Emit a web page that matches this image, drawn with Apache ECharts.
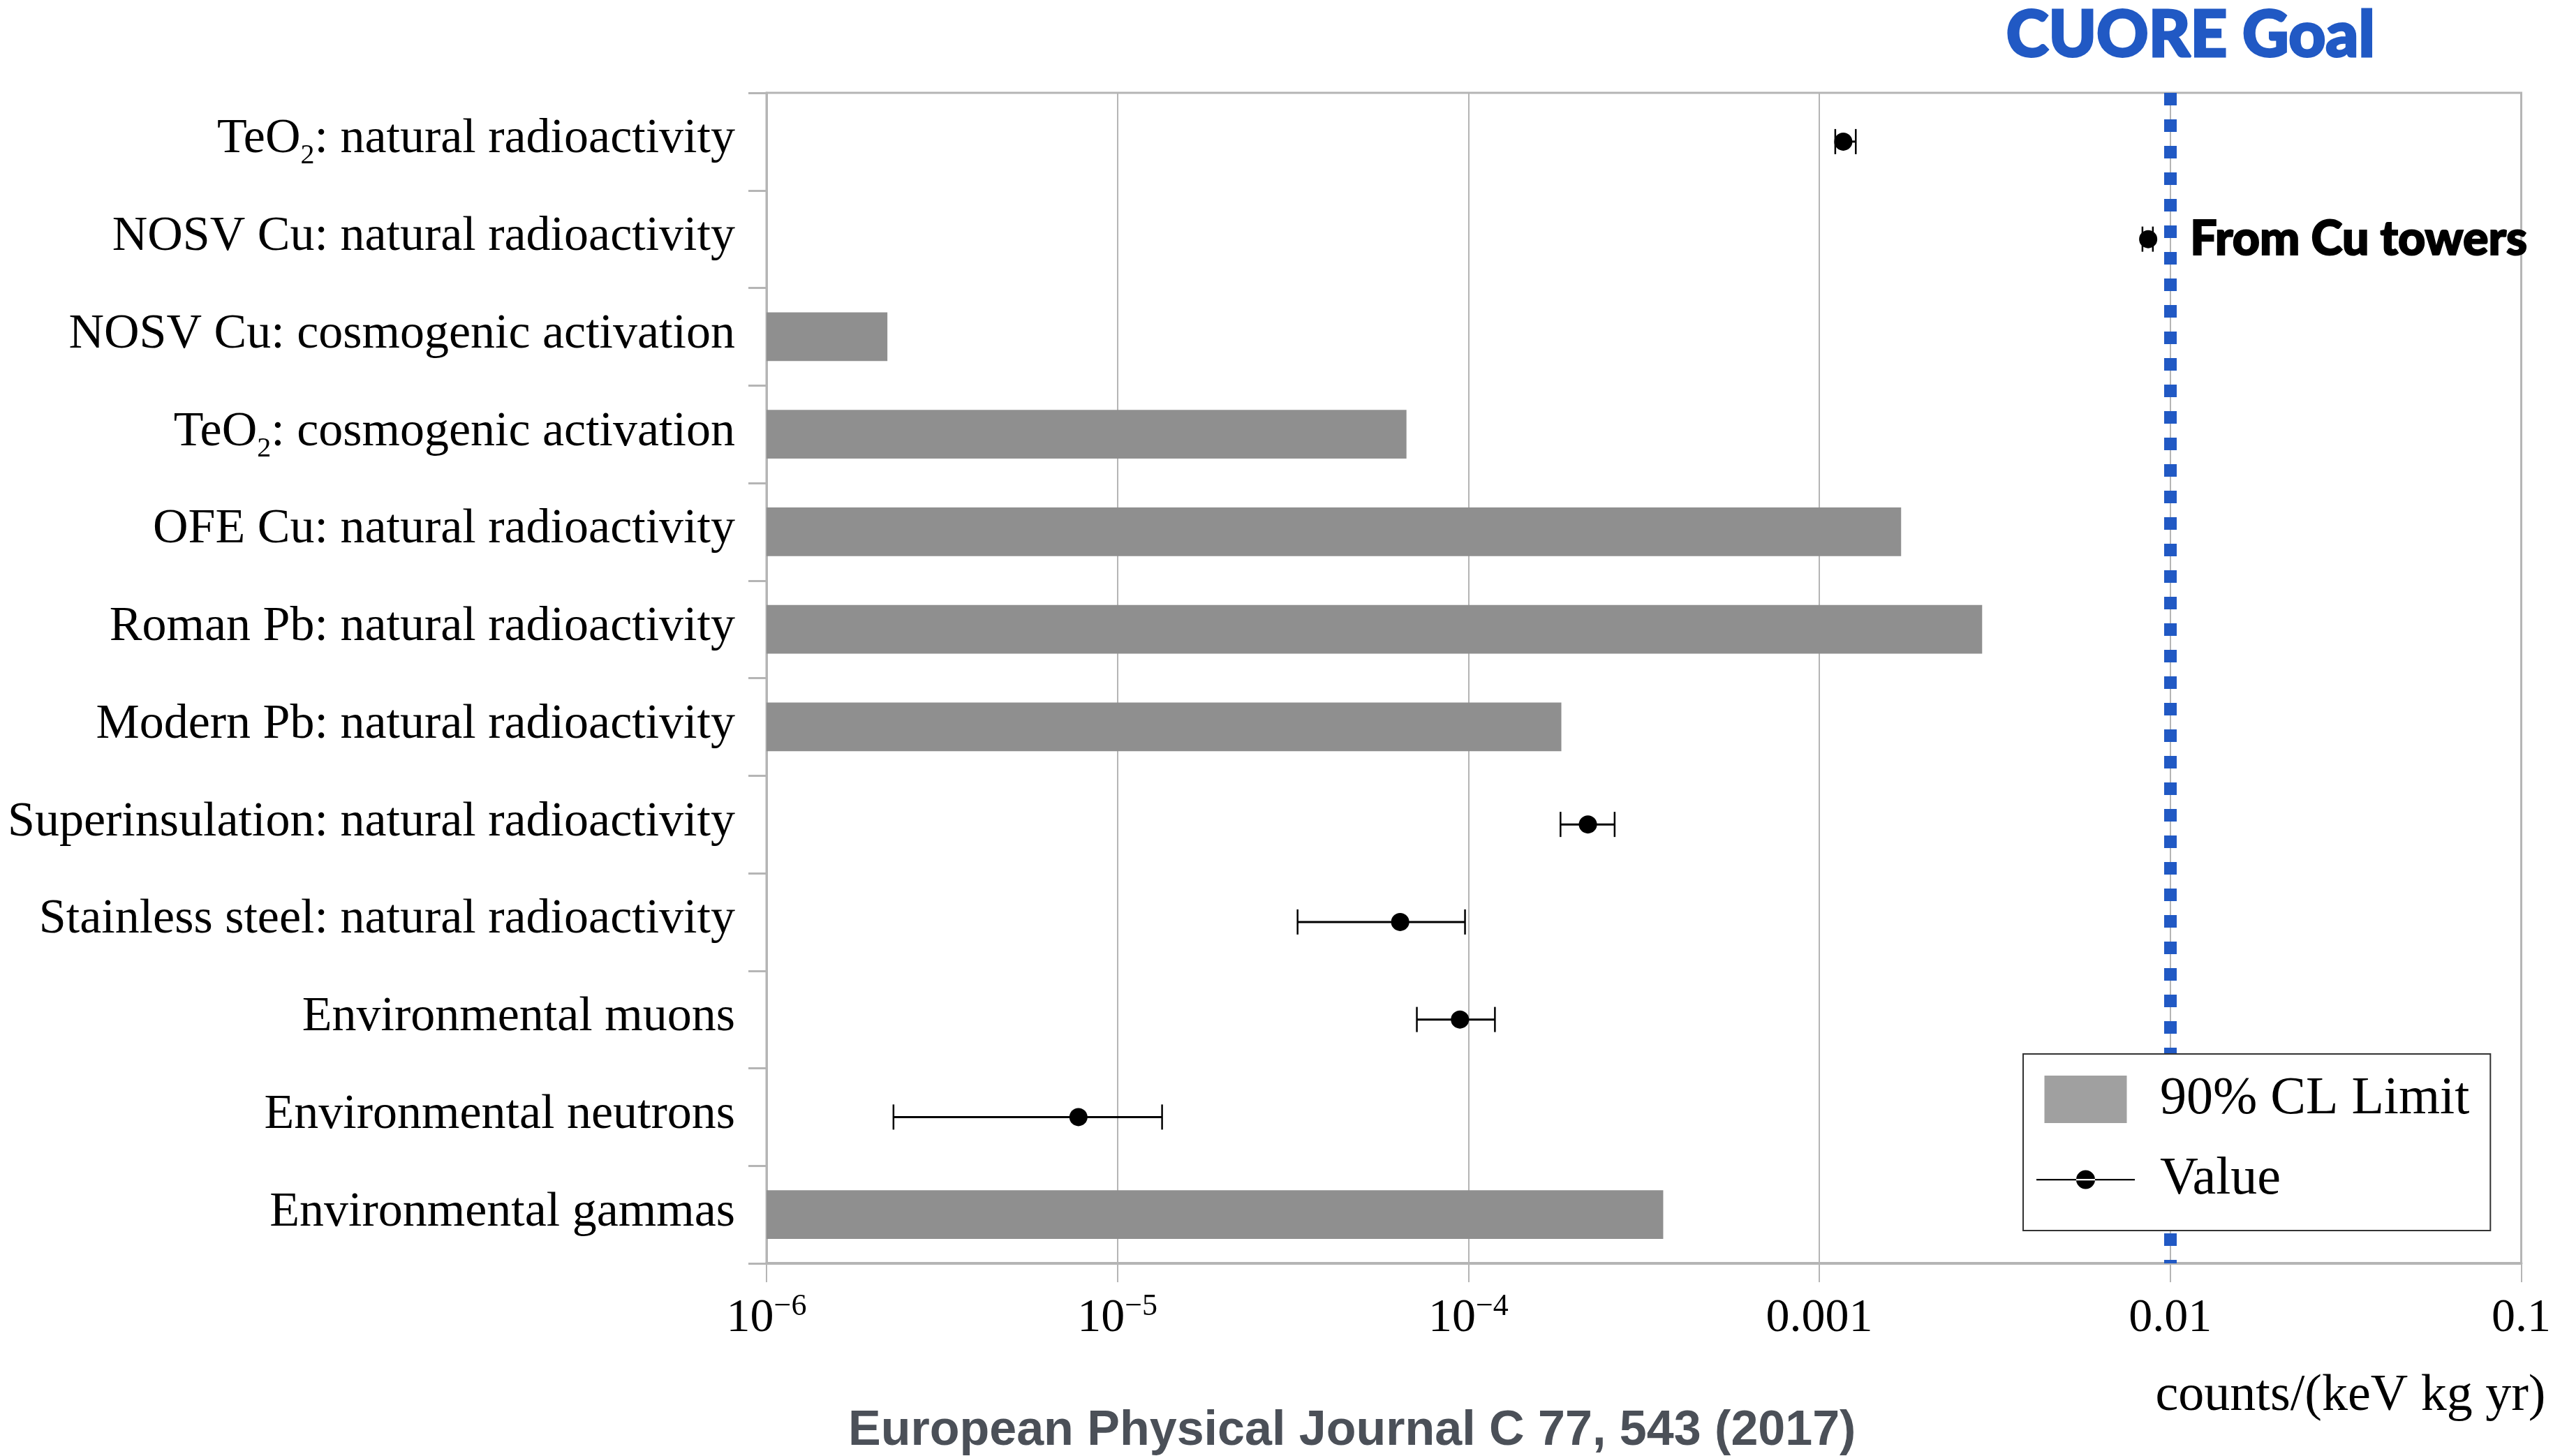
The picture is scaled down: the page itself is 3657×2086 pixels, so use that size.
<!DOCTYPE html>
<html>
<head>
<meta charset="utf-8">
<title>CUORE background budget</title>
<script src="https://cdn.jsdelivr.net/npm/echarts@6/dist/echarts.min.js"></script>
<style>
  html, body { margin: 0; padding: 0; background: #ffffff; }
  #chart { width: 3657px; height: 2086px; }
</style>
</head>
<body>
<div id="chart"></div>
<script>
// Background sources, listed top to bottom
const categories = [
  'TeO₂: natural radioactivity',
  'NOSV Cu: natural radioactivity',
  'NOSV Cu: cosmogenic activation',
  'TeO₂: cosmogenic activation',
  'OFE Cu: natural radioactivity',
  'Roman Pb: natural radioactivity',
  'Modern Pb: natural radioactivity',
  'Superinsulation: natural radioactivity',
  'Stainless steel: natural radioactivity',
  'Environmental muons',
  'Environmental neutrons',
  'Environmental gammas'
];

// 90% CL upper limits, counts/(keV kg yr); null where a measured value is given
const limitValues = [null, null, 2.21e-6, 6.66e-5, 1.71e-3, 2.91e-3, 1.84e-4, null, null, null, null, 3.59e-4];

// Measured values with their lower / upper error bounds
const centralValues = [1.17e-3, 8.65e-3, null, null, null, null, null, 2.19e-4, 6.39e-5, 9.46e-5, 7.74e-6, null];
const lowerValues   = [1.11e-3, 8.33e-3, null, null, null, null, null, 1.83e-4, 3.26e-5, 7.13e-5, 2.30e-6, null];
const upperValues   = [1.27e-3, 8.92e-3, null, null, null, null, null, 2.61e-4, 9.78e-5, 1.19e-4, 1.34e-5, null];

// Notes attached to individual points
const pointNotes = [null, 'From Cu towers', null, null, null, null, null, null, null, null, null, null];

// CUORE background goal
const goalValue = 0.01;
const goalLabel = 'CUORE Goal';

// x axis range and tick labels (one per decade)
const xAxisMin = 1e-6;
const xAxisMax = 0.1;
const xTickLabels = ['10^−6', '10^−5', '10^−4', '0.001', '0.01', '0.1'];

const xAxisName = 'counts/(keV kg yr)';
const sourceNote = 'European Physical Journal C 77, 543 (2017)';

const limitData = [];
limitValues.forEach((v, i) => { if (v != null) limitData.push([v, i]); });

const errorData = [];
const pointData = [];
centralValues.forEach((v, i) => {
  if (v == null) return;
  errorData.push([lowerValues[i], upperValues[i], i]);
  const item = { value: [v, i] };
  if (pointNotes[i]) {
    item.label = {
      show: true,
      position: 'right',
      distance: 47,
      formatter: pointNotes[i],
      fontFamily: 'Lato',
      fontWeight: 900,
      fontSize: 68,
      color: '#000000',
      textBorderColor: '#000000',
      textBorderWidth: 2
    };
  }
  pointData.push(item);
});

const serif = 'Liberation Serif';
const axisGray = '#b5b5b5';
const goalBlue = '#2159c4';

const chart = echarts.init(document.getElementById('chart'), null, { renderer: 'canvas' });

chart.setOption({
  backgroundColor: '#ffffff',
  animation: false,
  title: {
    text: sourceNote,
    left: 1215,
    top: 2016,
    padding: 0,
    textStyle: {
      fontFamily: 'Liberation Sans',
      fontWeight: 'bold',
      fontSize: 70,
      color: '#4b5058'
    }
  },
  legend: {
    orient: 'vertical',
    left: 2898,
    top: 1510,
    z: 20,
    padding: [27, 30, 35, 19],
    itemWidth: 141,
    itemHeight: 68,
    itemGap: 39,
    selectedMode: false,
    backgroundColor: '#ffffff',
    borderColor: '#333333',
    borderWidth: 2,
    textStyle: {
      fontFamily: serif,
      fontSize: 76,
      color: '#000000',
      padding: [0, 0, 0, 31]
    },
    data: [
      {
        name: '90% CL Limit',
        icon: 'path://M0,0h118v68h-118z',
        itemStyle: { color: '#a0a0a0', opacity: 1 }
      },
      {
        name: 'Value',
        icon: 'path://M0,12.5h141v2.2h-141z M57,13.5a13.5,13.5 0 1,0 27,0a13.5,13.5 0 1,0 -27,0z',
        itemStyle: { color: '#000000', opacity: 1 }
      }
    ]
  },
  grid: {
    left: 1098,
    right: 40,
    top: 133,
    bottom: 276,
    show: true,
    borderColor: axisGray,
    borderWidth: 3,
    backgroundColor: 'transparent'
  },
  xAxis: {
    type: 'log',
    logBase: 10,
    min: xAxisMin,
    max: xAxisMax,
    splitNumber: 5,
    name: xAxisName,
    nameLocation: 'end',
    nameGap: 35,
    nameTextStyle: {
      fontFamily: serif,
      fontSize: 74,
      color: '#000000',
      align: 'right',
      verticalAlign: 'top',
      padding: [154, 0, 0, 0]
    },
    axisLine: { show: true, lineStyle: { color: axisGray, width: 4 } },
    axisTick: { show: true, length: 27, lineStyle: { color: axisGray, width: 2 } },
    splitLine: { show: true, lineStyle: { color: axisGray, width: 2 } },
    minorTick: { show: false },
    axisLabel: {
      margin: 40,
      fontFamily: serif,
      fontSize: 68,
      lineHeight: 78,
      color: '#000000',
      formatter: function (value) {
        const idx = Math.round(Math.log10(value)) + 6;
        const txt = xTickLabels[idx] || '';
        const parts = txt.split('^');
        return parts.length === 2 ? parts[0] + '{sup|' + parts[1] + '}' : txt;
      },
      rich: {
        sup: {
          fontFamily: serif,
          fontSize: 44,
          lineHeight: 44,
          padding: [0, 0, 34, 0],
          color: '#000000'
        }
      }
    }
  },
  yAxis: {
    type: 'category',
    inverse: true,
    data: categories,
    axisLine: { show: true, lineStyle: { color: axisGray, width: 3 } },
    axisTick: { show: true, length: 26, alignWithLabel: false, lineStyle: { color: axisGray, width: 3 } },
    splitLine: { show: false },
    axisLabel: {
      margin: 45,
      fontFamily: serif,
      fontSize: 70,
      color: '#000000',
      padding: [0, 0, 6, 0],
      formatter: function (name) {
        return name.replace('₂', '{sub|2}');
      },
      rich: {
        sub: {
          fontFamily: serif,
          fontSize: 40,
          lineHeight: 40,
          padding: [48, 0, 0, 0],
          color: '#000000'
        }
      }
    }
  },
  series: [
    {
      name: '90% CL Limit',
      type: 'custom',
      data: limitData,
      encode: { x: 0, y: 1 },
      itemStyle: { color: '#8f8f8f' },
      renderItem: function (params, api) {
        const idx = api.value(1);
        const start = api.coord([xAxisMin, idx]);
        const end = api.coord([api.value(0), idx]);
        const h = api.size([0, 1])[1] * 0.5;
        return {
          type: 'rect',
          shape: { x: start[0], y: end[1] - h / 2, width: end[0] - start[0], height: h },
          style: { fill: '#8f8f8f' }
        };
      },
      z: 2
    },
    {
      name: 'Value',
      type: 'custom',
      data: errorData,
      encode: { x: [0, 1], y: 2 },
      itemStyle: { color: '#000000' },
      renderItem: function (params, api) {
        const idx = api.value(2);
        const lo = api.coord([api.value(0), idx]);
        const hi = api.coord([api.value(1), idx]);
        const cap = 36;
        return {
          type: 'group',
          children: [
            { type: 'line', shape: { x1: lo[0], y1: lo[1], x2: hi[0], y2: hi[1] }, style: { stroke: '#000000', lineWidth: 3 } },
            { type: 'line', shape: { x1: lo[0], y1: lo[1] - cap / 2, x2: lo[0], y2: lo[1] + cap / 2 }, style: { stroke: '#000000', lineWidth: 2.5 } },
            { type: 'line', shape: { x1: hi[0], y1: hi[1] - cap / 2, x2: hi[0], y2: hi[1] + cap / 2 }, style: { stroke: '#000000', lineWidth: 2.5 } }
          ]
        };
      },
      z: 3
    },
    {
      name: 'Value',
      type: 'scatter',
      data: pointData,
      symbol: 'circle',
      symbolSize: 26,
      itemStyle: { color: '#000000', opacity: 1 },
      z: 4,
      markLine: {
        silent: true,
        symbol: ['none', 'none'],
        lineStyle: { color: goalBlue, width: 18, type: [18, 20], opacity: 1 },
        label: {
          show: true,
          position: 'start',
          distance: 36,
          formatter: goalLabel,
          fontFamily: 'Lato',
          fontWeight: 900,
          fontSize: 92,
          color: goalBlue,
          textBorderColor: goalBlue,
          textBorderWidth: 3,
          padding: [0, 0, 0, 58]
        },
        emphasis: { disabled: true },
        data: [{ xAxis: goalValue }]
      }
    }
  ]
});
</script>
</body>
</html>
